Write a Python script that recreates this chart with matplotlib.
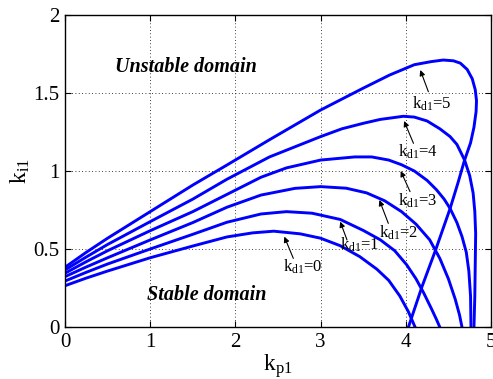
import matplotlib
matplotlib.use("Agg")
import matplotlib.pyplot as plt

plt.rcParams['font.family'] = ['Liberation Serif', 'DejaVu Serif']
plt.rcParams['mathtext.fontset'] = 'custom'
plt.rcParams['mathtext.rm'] = 'Liberation Serif'
plt.rcParams['mathtext.it'] = 'Liberation Serif:italic'
plt.rcParams['mathtext.bf'] = 'Liberation Serif:bold'

# stability boundaries, one (kp, ki) list per kd
kd_values = [0, 1, 2, 3, 4, 5]

kp_kd0 = [0, 0.25, 0.5, 1.0, 1.5, 1.9, 2.2, 2.45, 2.76, 3.0, 3.23, 3.46, 3.66, 3.8, 3.93, 4.03, 4.11]
ki_kd0 = [0.266, 0.315, 0.36, 0.445, 0.52, 0.578, 0.604, 0.615, 0.598, 0.57, 0.522, 0.452, 0.372, 0.3, 0.2, 0.1, 0.0]

kp_kd1 = [0, 0.25, 0.5, 1.0, 1.5, 1.9, 2.3, 2.6, 2.9, 3.23, 3.5, 3.7, 3.87, 4.01, 4.12, 4.21, 4.3, 4.36, 4.40]
ki_kd1 = [0.296, 0.352, 0.405, 0.501, 0.595, 0.672, 0.725, 0.74, 0.73, 0.69, 0.62, 0.56, 0.49, 0.4, 0.31, 0.22, 0.12, 0.05, 0.0]

kp_kd2 = [0, 0.25, 0.5, 1.0, 1.5, 1.9, 2.3, 2.7, 3.0, 3.3, 3.54, 3.75, 3.95, 4.12, 4.28, 4.4, 4.5, 4.58, 4.63, 4.66]
ki_kd2 = [0.324, 0.386, 0.445, 0.559, 0.67, 0.768, 0.846, 0.889, 0.9, 0.89, 0.86, 0.81, 0.74, 0.66, 0.56, 0.44, 0.31, 0.18, 0.08, 0.0]

kp_kd3 = [0, 0.25, 0.5, 1.0, 1.5, 1.9, 2.3, 2.6, 3.0, 3.4, 3.6, 3.8, 3.95, 4.1, 4.25, 4.36, 4.45, 4.52,
          4.6, 4.66, 4.71, 4.74, 4.76, 4.765]
ki_kd3 = [0.346, 0.42, 0.49, 0.618, 0.74, 0.85, 0.96, 1.02, 1.07, 1.09, 1.09, 1.07, 1.04, 1.0, 0.94, 0.88, 0.82, 0.76,
          0.67, 0.58, 0.48, 0.36, 0.2, 0.0]

kp_kd4 = [0, 0.25, 0.5, 1.0, 1.5, 1.9, 2.4, 3.0, 3.25, 3.5, 3.7, 3.97, 4.1, 4.25, 4.4, 4.52, 4.6, 4.69, 4.75, 4.79,
          4.81, 4.82, 4.815, 4.81, 4.80]
ki_kd4 = [0.367, 0.45, 0.53, 0.676, 0.82, 0.947, 1.09, 1.22, 1.27, 1.305, 1.33, 1.35, 1.345, 1.32, 1.27, 1.22, 1.17, 1.07, 0.97, 0.86,
          0.74, 0.6, 0.4, 0.2, 0.0]

kp_kd5 = [0, 0.25, 0.5, 1.0, 1.5, 1.9, 2.4, 3.0, 3.5, 3.81, 4.1, 4.3, 4.44, 4.56, 4.64, 4.72, 4.78, 4.815,
          4.83, 4.825, 4.8, 4.76, 4.69, 4.61, 4.52, 4.35, 4.19, 4.03]
ki_kd5 = [0.384, 0.48, 0.57, 0.74, 0.91, 1.038, 1.2, 1.39, 1.53, 1.614, 1.68, 1.70, 1.71, 1.705, 1.69, 1.65, 1.59, 1.52,
          1.45, 1.38, 1.28, 1.18, 1.07, 0.92, 0.76, 0.495, 0.26, 0.0]

curves = [(kp_kd0, ki_kd0), (kp_kd1, ki_kd1), (kp_kd2, ki_kd2),
          (kp_kd3, ki_kd3), (kp_kd4, ki_kd4), (kp_kd5, ki_kd5)]

# label text position (left, centre) and arrow tail -> tip, in data units
label_pos = [(2.56, 0.384), (3.23, 0.527), (3.68, 0.605), (3.91, 0.808), (3.91, 1.124), (4.07, 1.433)]
arrow_tail = [(2.68, 0.441), (3.31, 0.559), (3.795, 0.665), (4.05, 0.868), (4.09, 1.177), (4.265, 1.507)]
arrow_tip = [(2.574, 0.58), (3.23, 0.676), (3.69, 0.814), (3.94, 1.0), (3.98, 1.32), (4.17, 1.646)]

fig = plt.figure(figsize=(4.93, 3.79), dpi=100)
ax = fig.add_axes([65 / 493, 51.7 / 379, 426 / 493, 312.6 / 379])

for kp, ki in curves:
    ax.plot(kp, ki, color='#0000ff', lw=2.1, solid_joinstyle='round')

for kd, (tx, ty), tail, tip in zip(kd_values, label_pos, arrow_tail, arrow_tip):
    ax.annotate('', xy=tip, xytext=tail,
                arrowprops=dict(arrowstyle='-|>', color='k', lw=0.8,
                                mutation_scale=8, shrinkA=0, shrinkB=0))
    ax.text(tx, ty, r'$\mathrm{k_{d1}}$=%d' % kd, fontsize=12,
            ha='left', va='center')

ax.text(0.59, 1.667, 'Unstable domain', fontsize=14.5, fontweight='bold',
        fontstyle='italic', ha='left', va='center')
ax.text(0.96, 0.207, 'Stable domain', fontsize=14.5, fontweight='bold',
        fontstyle='italic', ha='left', va='center')

ax.set_xlim(0, 5)
ax.set_ylim(0, 2)
ax.set_xticks([0, 1, 2, 3, 4, 5])
ax.set_yticks([0, 0.5, 1, 1.5, 2])
ax.set_xticklabels(['0', '1', '2', '3', '4', '5'])
ax.set_yticklabels(['0', '0.5', '1', '1.5', '2'])
ax.tick_params(direction='in', length=4, width=0.8, labelsize=15,
               top=True, right=True, pad=4)
ax.grid(True, linestyle=(0, (1, 3)), color='k', lw=0.6)
for s in ax.spines.values():
    s.set_linewidth(1.0)

ax.set_xlabel(r'$\mathrm{k_{p1}}$', fontsize=17, labelpad=0)
ax.set_ylabel(r'$\mathrm{k_{i1}}$', fontsize=17, labelpad=1)

fig.savefig('out.png', dpi=100)
